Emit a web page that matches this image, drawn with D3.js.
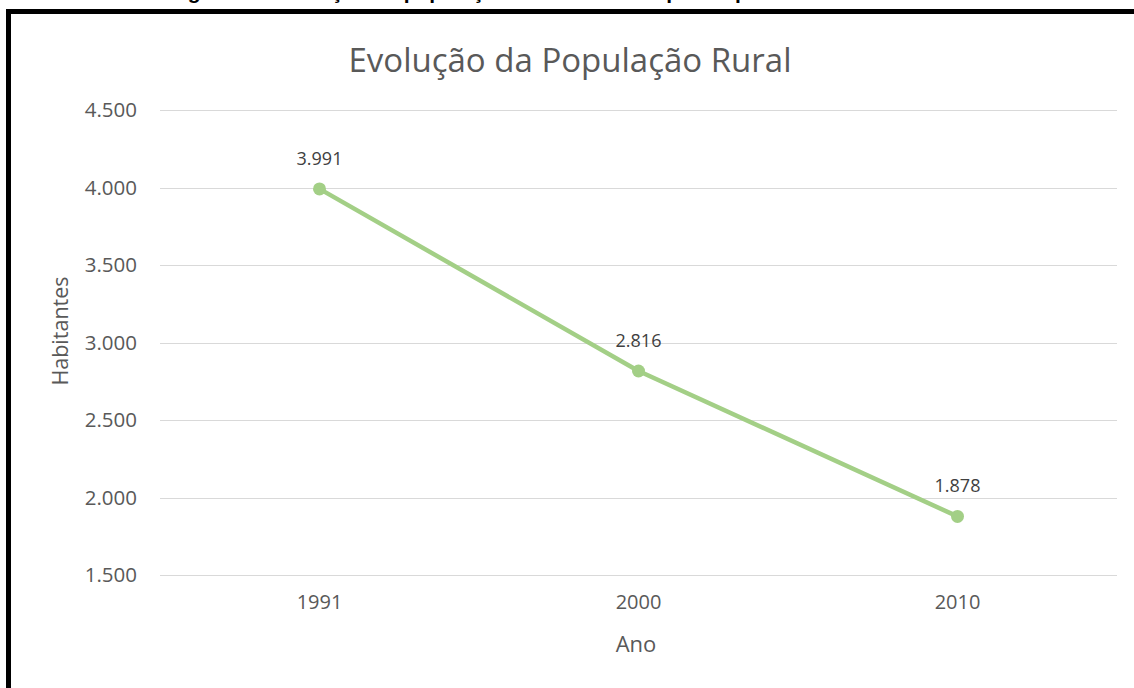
<!DOCTYPE html>
<html lang="pt-BR">
<head>
<meta charset="utf-8">
<script src="https://cdn.jsdelivr.net/npm/d3@7/dist/d3.min.js"></script>
<style>
  html, body { margin: 0; padding: 0; background: #fff; }
  svg { display: block; }
</style>
</head>
<body>
<svg id="chart" width="1134" height="688"></svg>
<script>
// Dados da série
const anos = ["1991", "2000", "2010"];
const habitantes = [3991, 2816, 1878];
const yTicks = [1500, 2000, 2500, 3000, 3500, 4000, 4500];
const titulo = "Evolução da População Rural";
const legendaFigura = "Figura 3 – Evolução da população rural do município no período de 1991 a 2010";

const W = 1134, H = 688;
const svg = d3.select("#chart");
const font = "'Open Sans', 'Noto Sans', sans-serif";

const ptBR = d3.formatLocale({ decimal: ",", thousands: ".", grouping: [3], currency: ["R$ ", ""] });
const fmt = ptBR.format(",.0f");

// Caption partially hidden above the frame
svg.append("defs").append("clipPath").attr("id", "topo")
  .append("rect").attr("x", 0).attr("y", 0).attr("width", W).attr("height", 9);
svg.append("text")
  .attr("clip-path", "url(#topo)")
  .attr("x", 567).attr("y", -1)
  .attr("text-anchor", "middle")
  .attr("font-family", "'Liberation Sans', Arial, sans-serif")
  .attr("font-weight", "bold")
  .attr("font-size", 21)
  .attr("fill", "#000")
  .text(legendaFigura);

// Frame
svg.append("path")
  .attr("d", `M8.5,${H} V11.5 H${W}`)
  .attr("fill", "none").attr("stroke", "#000").attr("stroke-width", 5);

const plot = { left: 160, right: 1117, top: 110, bottom: 575 };

const x = d3.scaleBand().domain(anos).range([plot.left, plot.right]);
const y = d3.scaleLinear().domain([1500, 4500]).range([plot.bottom, plot.top]);

// Gridlines
svg.append("g").selectAll("line").data(yTicks).join("line")
  .attr("x1", plot.left).attr("x2", plot.right)
  .attr("y1", d => Math.round(y(d)) + 0.5).attr("y2", d => Math.round(y(d)) + 0.5)
  .attr("stroke", "#d9d9d9").attr("stroke-width", 1);

// Y axis labels
const yAxis = svg.append("g").attr("transform", `translate(${plot.left},0)`)
  .call(d3.axisLeft(y).tickValues(yTicks).tickFormat(fmt).tickSize(0).tickPadding(23));
yAxis.select(".domain").remove();
yAxis.selectAll("text")
  .attr("font-family", font).attr("font-size", 20.5).attr("fill", "#595959");

// X axis labels
const xAxis = svg.append("g").attr("transform", `translate(0,${plot.bottom})`)
  .call(d3.axisBottom(x).tickSize(0).tickPadding(20));
xAxis.select(".domain").remove();
xAxis.selectAll("text")
  .attr("font-family", font).attr("font-size", 20).attr("fill", "#595959");

// Title
svg.append("text")
  .attr("x", 570).attr("y", 72)
  .attr("text-anchor", "middle")
  .attr("font-family", font).attr("font-size", 33).attr("fill", "#595959")
  .text(titulo);

// Axis titles
svg.append("text")
  .attr("x", 636).attr("y", 652)
  .attr("text-anchor", "middle")
  .attr("font-family", font).attr("font-size", 22).attr("fill", "#595959")
  .text("Ano");
svg.append("text")
  .attr("transform", "translate(68,331) rotate(-90)")
  .attr("text-anchor", "middle")
  .attr("font-family", font).attr("font-size", 21.5).attr("fill", "#595959")
  .text("Habitantes");

// Series
const pts = anos.map((a, i) => ({ ano: a, v: habitantes[i] }));
const cx = d => x(d.ano) + x.bandwidth() / 2;

svg.append("path")
  .datum(pts)
  .attr("fill", "none").attr("stroke", "#a3cf86").attr("stroke-width", 4.5)
  .attr("stroke-linejoin", "round").attr("stroke-linecap", "round")
  .attr("d", d3.line().x(cx).y(d => y(d.v)));

svg.append("g").selectAll("circle").data(pts).join("circle")
  .attr("cx", cx).attr("cy", d => y(d.v)).attr("r", 6.5)
  .attr("fill", "#a3cf86");

svg.append("g").selectAll("text").data(pts).join("text")
  .attr("x", cx).attr("y", d => y(d.v) - 24)
  .attr("text-anchor", "middle")
  .attr("font-family", font).attr("font-size", 18).attr("fill", "#404040")
  .text(d => fmt(d.v));
</script>
</body>
</html>
